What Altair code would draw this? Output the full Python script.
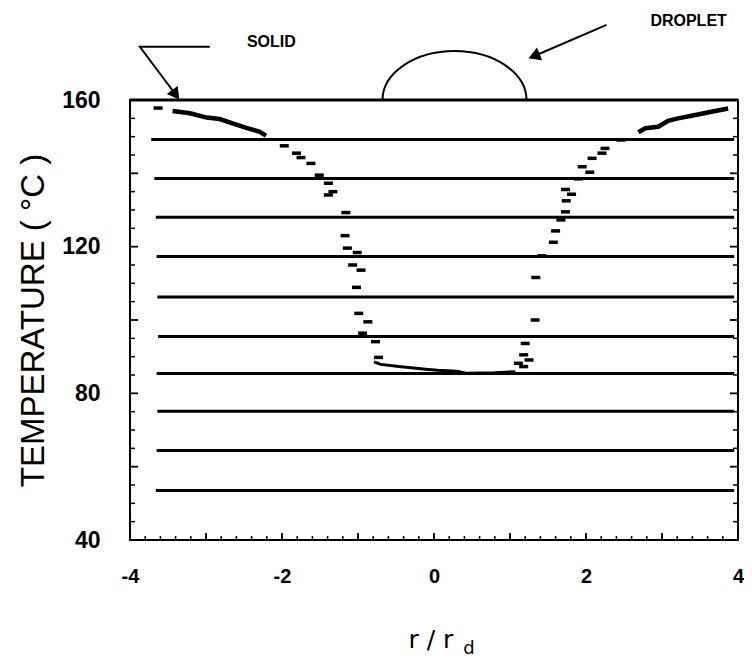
import altair as alt
import pandas as pd

# ---- data ----
line_y = [149.2, 138.6, 128.0, 117.3, 106.3, 95.5, 85.4, 75.1, 64.4, 53.5]
line_x0 = [-3.72, -3.68, -3.66, -3.65, -3.64, -3.63, -3.65, -3.64, -3.65, -3.66]
line_x1 = [3.95, 3.95, 3.95, 3.95, 3.95, 3.95, 3.95, 3.95, 3.95, 3.95]

left_curve_x = [-3.44, -3.21, -2.99, -2.82, -2.65, -2.47, -2.30, -2.21]
left_curve_y = [157.0, 156.4, 155.2, 154.8, 153.6, 152.4, 151.4, 150.3]
right_curve_x = [3.87, 3.65, 3.39, 3.21, 3.08, 2.95, 2.78, 2.69]
right_curve_y = [157.7, 156.8, 155.7, 155.0, 154.3, 152.7, 152.3, 151.2]
plateau_x = [-0.79, -0.70, -0.46, -0.11, 0.05, 0.30, 0.42, 0.80, 1.07]
plateau_y = [88.6, 87.9, 87.3, 86.6, 86.3, 86.0, 85.5, 85.6, 85.9]

dash_x = [-3.63, -1.97, -1.81, -1.75, -1.62, -1.51, -1.39, -1.33, -1.39, -1.16,
          -1.17, -1.14, -1.01, -1.07, -0.96, -1.02, -0.99, -0.87, -0.94, -0.77, -0.73,
          2.46, 2.25, 2.21, 2.08, 1.95, 2.05, 1.90, 1.73, 1.81, 1.74, 1.73, 1.67,
          1.60, 1.57, 1.42, 1.34, 1.33, 1.20, 1.18, 1.25, 1.11, 1.18]
dash_y = [157.8, 147.5, 145.5, 144.3, 142.7, 139.5, 137.3, 135.0, 134.1, 129.3,
          123.0, 119.6, 118.4, 115.0, 113.6, 108.9, 101.8, 99.5, 96.4, 94.1, 89.8,
          149.1, 146.8, 145.5, 144.1, 141.8, 140.3, 138.5, 135.6, 134.3, 132.5, 129.5, 127.3,
          124.3, 121.2, 117.5, 111.6, 100.0, 93.6, 90.5, 89.1, 88.2, 87.3]

y_tick_labels = [40, 80, 120, 160]
x_tick_labels = [-4, -2, 0, 2, 4]

# annotations (data units)
solid_arrow_x = [-2.95, -3.87, -3.40]
solid_arrow_y = [174.5, 174.5, 161.5]
drop_arrow_x = [2.27, 1.32]
drop_arrow_y = [180.5, 172.0]
droplet_x = [0.27]
droplet_y = [160.0]

FONT = "Liberation Sans"

xs = alt.Scale(domain=[-4, 4], nice=False, zero=False)
ys = alt.Scale(domain=[40, 160], nice=False, zero=False)

X = alt.X("x:Q", scale=xs, axis=alt.Axis(values=x_tick_labels, title=None, tickSize=0,
          domain=False, grid=False, labelFont=FONT, labelFontSize=20, labelFontWeight="bold",
          labelPadding=26, labelColor="black", labelFlush=False, labelExpr="'' + datum.value"))
Y = alt.Y("y:Q", scale=ys, axis=alt.Axis(values=y_tick_labels, title="TEMPERATURE ( °C )",
          tickSize=0, domain=False, grid=False, labelFont=FONT, labelFontSize=23,
          labelFontWeight="bold", labelPadding=30, labelColor="black", labelFlush=False,
          titleFont=FONT, titleFontSize=33, titleFontWeight="normal", titleColor="black",
          titlePadding=11))


def ch(df):
    return alt.Chart(df)


lines_df = pd.DataFrame({"y": line_y, "x": line_x0, "x2": line_x1})
hlines = ch(lines_df).mark_rule(color="black", strokeWidth=3).encode(x=X, x2="x2:Q", y=Y)

lc = pd.DataFrame({"x": left_curve_x, "y": left_curve_y, "o": range(len(left_curve_x))})
rc = pd.DataFrame({"x": right_curve_x, "y": right_curve_y, "o": range(len(right_curve_x))})
pc = pd.DataFrame({"x": plateau_x, "y": plateau_y, "o": range(len(plateau_x))})
curves = [ch(d).mark_line(color="black", strokeWidth=w).encode(x=X, y=Y, order="o:Q")
          for d, w in ((lc, 4.5), (rc, 4.5), (pc, 3))]

dashes = ch(pd.DataFrame({"x": dash_x, "y": dash_y})).mark_tick(
    orient="horizontal", size=9, thickness=3.5, color="black", opacity=1).encode(x=X, y=Y)

# inward ticks drawn as clipped tick marks
yt = [40 + 5 * i for i in range(25)]
ytick_df = pd.DataFrame({"x": [-4] * len(yt) + [4] * len(yt), "y": yt + yt,
                         "major": [v % 20 == 0 for v in yt] * 2})
xt = [round(-4 + 0.2 * i, 1) for i in range(41)]
xtick_df = pd.DataFrame({"x": xt, "y": [40] * len(xt),
                         "major": [abs(v - round(v)) < 1e-6 for v in xt]})
ytk_min = ch(ytick_df[~ytick_df.major]).mark_tick(orient="horizontal", size=10, thickness=1.5,
                                                  color="black", opacity=1, clip=True).encode(x=X, y=Y)
ytk_maj = ch(ytick_df[ytick_df.major]).mark_tick(orient="horizontal", size=16, thickness=1.8,
                                                 color="black", opacity=1, clip=True).encode(x=X, y=Y)
xtk_min = ch(xtick_df[~xtick_df.major]).mark_tick(orient="vertical", size=8, thickness=1.5,
                                                  color="black", opacity=1, clip=True).encode(x=X, y=Y)
xtk_maj = ch(xtick_df[xtick_df.major]).mark_tick(orient="vertical", size=14, thickness=1.8,
                                                 color="black", opacity=1, clip=True).encode(x=X, y=Y)

top = ch(pd.DataFrame({"x": [-4], "x2": [4], "y": [160]})).mark_rule(
    color="black", strokeWidth=3).encode(x=X, x2="x2:Q", y=Y)

droplet = ch(pd.DataFrame({"x": droplet_x, "y": droplet_y})).mark_point(
    shape="M -1 0 A 1 0.68 0 0 1 1 0", size=20736, filled=False, stroke="black",
    strokeWidth=2, opacity=1).encode(x=X, y=Y)

sa = pd.DataFrame({"x": solid_arrow_x, "y": solid_arrow_y, "o": range(3)})
solid_arrow = ch(sa).mark_line(color="black", strokeWidth=2).encode(x=X, y=Y, order="o:Q")
da = pd.DataFrame({"x": drop_arrow_x, "y": drop_arrow_y, "o": range(2)})
drop_arrow = ch(da).mark_line(color="black", strokeWidth=2).encode(x=X, y=Y, order="o:Q")
heads_df = pd.DataFrame({"x": [solid_arrow_x[-1], drop_arrow_x[-1]],
                         "y": [solid_arrow_y[-1], drop_arrow_y[-1]],
                         "a": [143, 248]})
heads = ch(heads_df).mark_point(shape="triangle-up", size=140, filled=True, fill="black",
                                stroke="black", strokeWidth=1, opacity=1).encode(
    x=X, y=Y, angle=alt.Angle("a:Q", scale=None))

labels = ch(pd.DataFrame({"x": [-2.14, 3.35], "y": [175.8, 181.5],
                          "t": ["SOLID", "DROPLET"]})).mark_text(
    font=FONT, fontSize=16, fontWeight="bold", color="black").encode(x=X, y=Y, text="t:N")

xtitle = ch(pd.DataFrame({"x": [-0.04], "y": [12.8], "t": ["r / r"]})).mark_text(
    font="DejaVu Sans", fontSize=25, color="black").encode(x=X, y=Y, text="t:N")
xsub = ch(pd.DataFrame({"x": [0.46], "y": [10.2], "t": ["d"]})).mark_text(
    font="DejaVu Sans", fontSize=18, color="black").encode(x=X, y=Y, text="t:N")

chart = alt.layer(hlines, *curves, dashes, ytk_min, ytk_maj, xtk_min, xtk_maj, top,
                  droplet, solid_arrow, drop_arrow, heads, labels, xtitle, xsub).properties(
    width=608, height=440,
    autosize=alt.AutoSizeParams(type="none"),
    padding={"left": 122, "top": 92, "right": 6, "bottom": 120},
    background="white",
).configure_view(stroke="black", strokeWidth=2)

chart.save("out.html", embed_options={"renderer": "svg", "actions": False})
